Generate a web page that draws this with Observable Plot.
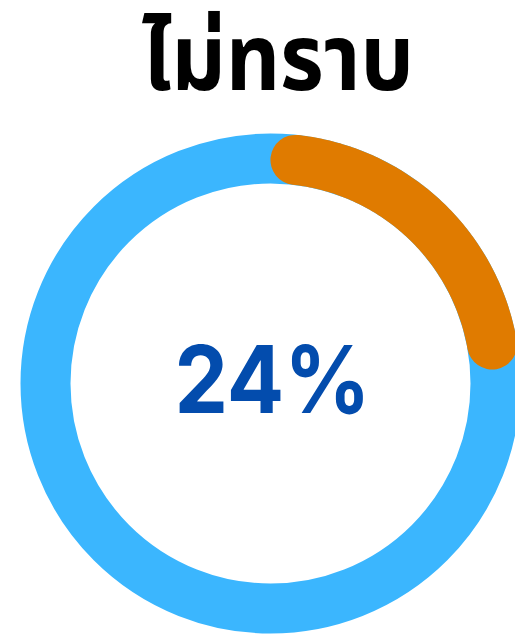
<!DOCTYPE html>
<html>
<head>
<meta charset="utf-8">
<script src="https://cdn.jsdelivr.net/npm/d3@7"></script>
<script src="https://cdn.jsdelivr.net/npm/@observablehq/plot@0.6"></script>
<style>
  html, body { margin: 0; padding: 0; background: #fff; }
</style>
</head>
<body>
<div id="chart"></div>
<script>
const title = "ไม่ทราบ";
const categories = ["ไม่ทราบ", "อื่น ๆ"];
const values = [24, 76];
const colors = ["#E07B00", "#3BB6FE"];

const W = 515, H = 634;
const cx = 270, cy = 383, R = 225, thick = 50;

// arc geometry derived from the value share (angles measured clockwise from 12 o'clock)
const share = values[0] / d3.sum(values);
const capA = (thick / 2) / R;
const a0 = capA, a1 = share * 2 * Math.PI - capA;
const N = 120;
const arcPts = d3.range(N + 1).map(i => {
  const a = a0 + (a1 - a0) * i / N;
  return { x: Math.sin(a), y: Math.cos(a) };
});

const chart = Plot.plot({
  width: W,
  height: H,
  margin: 0,
  x: { domain: [-1, 1], range: [cx - R, cx + R], axis: null },
  y: { domain: [-1, 1], range: [cy + R, cy - R], axis: null },
  style: { background: "#fff", overflow: "hidden" },
  marks: [
    Plot.dot([{ x: 0, y: 0 }], { x: "x", y: "y", r: R, fill: "none", stroke: colors[1], strokeWidth: thick }),
    Plot.line(arcPts, { x: "x", y: "y", stroke: colors[0], strokeWidth: thick, strokeLinecap: "round", curve: "linear" }),
    Plot.text([`${values[0]}%`], { x: () => 0, y: () => 0, text: d => d, fill: "#034CAD", fontSize: 94, fontWeight: 700, fontFamily: "Inter, 'Noto Sans', sans-serif", dy: -1, dx: 2, textAnchor: "middle", className: "center-label" }),
    Plot.text([title], { frameAnchor: "top", text: d => d, dx: 20, dy: 24, fill: "#000", fontSize: 92, fontWeight: 700, fontFamily: "'Noto Sans Thai', 'Noto Sans', sans-serif", className: "title-label" })
  ]
});
d3.select(chart).selectAll(".title-label text").attr("textLength", 272).attr("lengthAdjust", "spacingAndGlyphs");
d3.select(chart).selectAll(".center-label text").attr("textLength", 196).attr("lengthAdjust", "spacingAndGlyphs");
document.getElementById("chart").appendChild(chart);
</script>
</body>
</html>
